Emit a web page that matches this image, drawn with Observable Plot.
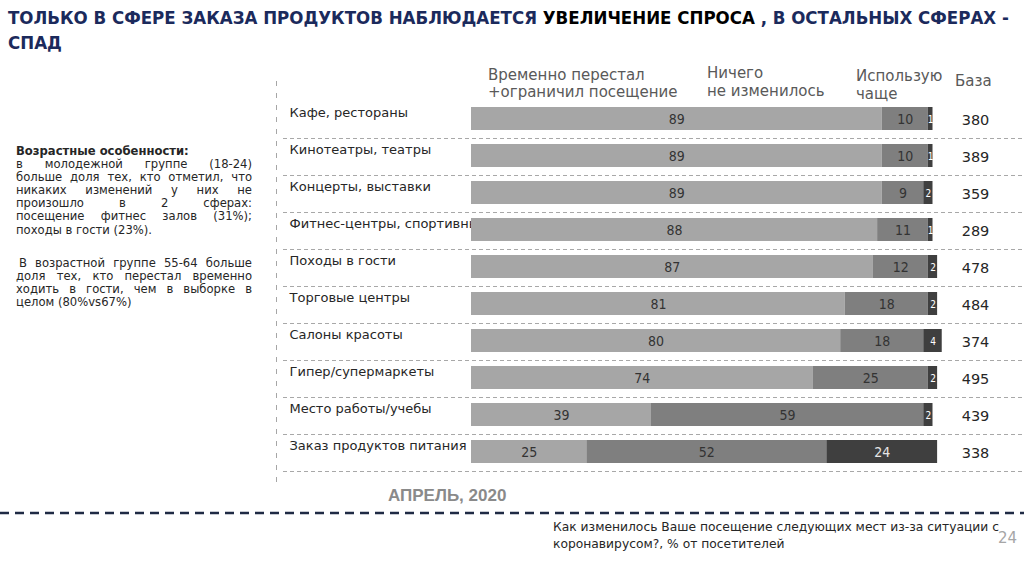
<!DOCTYPE html>
<html><head><meta charset="utf-8">
<script src="https://cdn.jsdelivr.net/npm/d3@7"></script>
<script src="https://cdn.jsdelivr.net/npm/@observablehq/plot@0.6"></script>
<style>
body{margin:0;width:1024px;height:565px;position:relative;overflow:hidden;background:#fff;font-family:"DejaVu Sans",sans-serif;}
.abs{position:absolute;white-space:nowrap;}
#title{left:8px;top:4.5px;font-family:"DejaVu Sans Condensed","DejaVu Sans",sans-serif;font-weight:bold;font-size:18.5px;line-height:25px;color:#1b2a5c;}
#title b{color:#000;}
.hdr{font-size:15px;line-height:17.5px;color:#595959;}
.note{left:16px;width:236px;font-size:11.6px;line-height:13.1px;color:#262626;white-space:normal;}
.note .j{text-align:justify;text-align-last:justify;}
#april{left:388px;top:486px;font-family:"Liberation Sans",Arial,sans-serif;font-weight:bold;font-size:17px;line-height:20px;color:#8a8a8a;}
#caption{left:553px;top:518.5px;font-size:12.3px;line-height:17px;color:#262626;}
#page{left:998px;top:528px;font-size:15px;line-height:20px;color:#a6a6a6;}
</style></head><body>

<div id="title" class="abs">ТОЛЬКО В СФЕРЕ ЗАКАЗА ПРОДУКТОВ НАБЛЮДАЕТСЯ <b>УВЕЛИЧЕНИЕ СПРОСА</b> , В ОСТАЛЬНЫХ СФЕРАХ -<br>СПАД</div>

<div class="abs note" style="top:145px;">
<div style="font-weight:bold;">Возрастные особенности:</div>
<div class="j">в молодежной группе (18-24)</div>
<div class="j">больше доля тех, кто отметил, что</div>
<div class="j">никаких изменений у них не</div>
<div class="j">произошло в 2 сферах:</div>
<div class="j">посещение фитнес залов (31%);</div>
<div>походы в гости (23%).</div>
</div>
<div class="abs note" style="top:256.5px;">
<div class="j" style="padding-left:3px;">В возрастной группе 55-64 больше</div>
<div class="j">доля тех, кто перестал временно</div>
<div class="j">ходить в гости, чем в выборке в</div>
<div>целом (80%vs67%)</div>
</div>

<div class="abs hdr" style="left:488px;top:66.5px;">Временно перестал<br>+ограничил посещение</div>
<div class="abs hdr" style="left:707px;top:64px;line-height:18px;">Ничего<br>не изменилось</div>
<div class="abs hdr" style="left:856px;top:68px;">Использую<br>чаще</div>
<div class="abs hdr" style="left:955px;top:73px;">База</div>

<svg class="abs" style="left:0;top:0;" width="1024" height="565">
  <line x1="276.5" y1="81" x2="276.5" y2="489" stroke="#a6a6a6" stroke-width="1" stroke-dasharray="5,7"/>
  <line x1="0" y1="513" x2="1024" y2="513" stroke="#1f2a44" stroke-width="2.5" stroke-dasharray="9,6"/>
</svg>

<div id="chart" class="abs" style="left:0;top:80px;"></div>

<div id="april" class="abs">АПРЕЛЬ, 2020</div>
<div id="caption" class="abs">Как изменилось Ваше посещение следующих мест из-за ситуации с<br>коронавирусом?, % от посетителей</div>
<div id="page" class="abs">24</div>

<script>
const categories = ["Кафе, рестораны","Кинотеатры, театры","Концерты, выставки","Фитнес-центры, спортивные залы","Походы в гости","Торговые центры","Салоны красоты","Гипер/супермаркеты","Место работы/учебы","Заказ продуктов питания"];
const series = ["Временно перестал +ограничил посещение","Ничего не изменилось","Использую чаще"];
const stopped = [89,89,89,88,87,81,80,74,39,25];
const unchanged = [10,10,9,11,12,18,18,25,59,52];
const usedMore = [1,1,2,1,2,2,4,2,2,24];
const base = [380,389,359,289,478,484,374,495,439,338];
const colors = ["#a6a6a6","#7f7f7f","#3f3f3f"];

const seriesValues = [stopped, unchanged, usedMore];
const data = [];
categories.forEach((c, i) => {
  series.forEach((s, j) => data.push({cat: c, series: s, value: seriesValues[j][i]}));
});
const bases = categories.map((c, i) => ({cat: c, base: base[i]}));

const stackOpts = {x: "value", y: "cat", z: "series"};
const fontSeg = "DejaVu Sans Condensed, DejaVu Sans, sans-serif";

const chart = Plot.plot({
  width: 1024,
  height: 410,
  marginLeft: 283,
  marginRight: 0,
  marginTop: 0,
  marginBottom: 0,
  style: {fontFamily: "DejaVu Sans, sans-serif", background: "transparent", overflow: "visible"},
  x: {domain: [0, 100], range: [471, 932.5], axis: null},
  y: {domain: categories, range: [11.7, 397.2], padding: 0.39, axis: null},
  color: {domain: series, range: colors},
  marks: [
    Plot.ruleY(categories, {y: d => d, dy: 19.5, stroke: "#a8a8a8", strokeWidth: 1, strokeDasharray: "4,3"}),
    Plot.text(categories, {y: d => d, frameAnchor: "left", textAnchor: "start", dx: 6, dy: -6, fontSize: 13, fill: "#262626", text: d => d}),
    Plot.barX(data, Plot.stackX({...stackOpts, fill: "series"})),
    Plot.text(data, Plot.filter(d => d.series !== series[2], Plot.stackX({...stackOpts, text: "value", fill: "#333333", fontSize: 14, fontFamily: fontSeg, dy: 1}))),
    Plot.text(data, Plot.filter(d => d.series === series[2] && d.value >= 10, Plot.stackX({...stackOpts, text: "value", fill: "#e6e6e6", fontSize: 14, fontFamily: fontSeg, dy: 1}))),
    Plot.text(data, Plot.filter(d => d.series === series[2] && d.value < 10, Plot.stackX({...stackOpts, text: "value", fill: "#ffffff", fontSize: 10, fontFamily: fontSeg, dy: 1}))),
    Plot.text(bases, {y: "cat", text: "base", frameAnchor: "right", textAnchor: "middle", dx: -49, dy: 1.5, fontSize: 14.5, fill: "#262626"})
  ]
});
document.getElementById("chart").appendChild(chart);
</script>
</body></html>
